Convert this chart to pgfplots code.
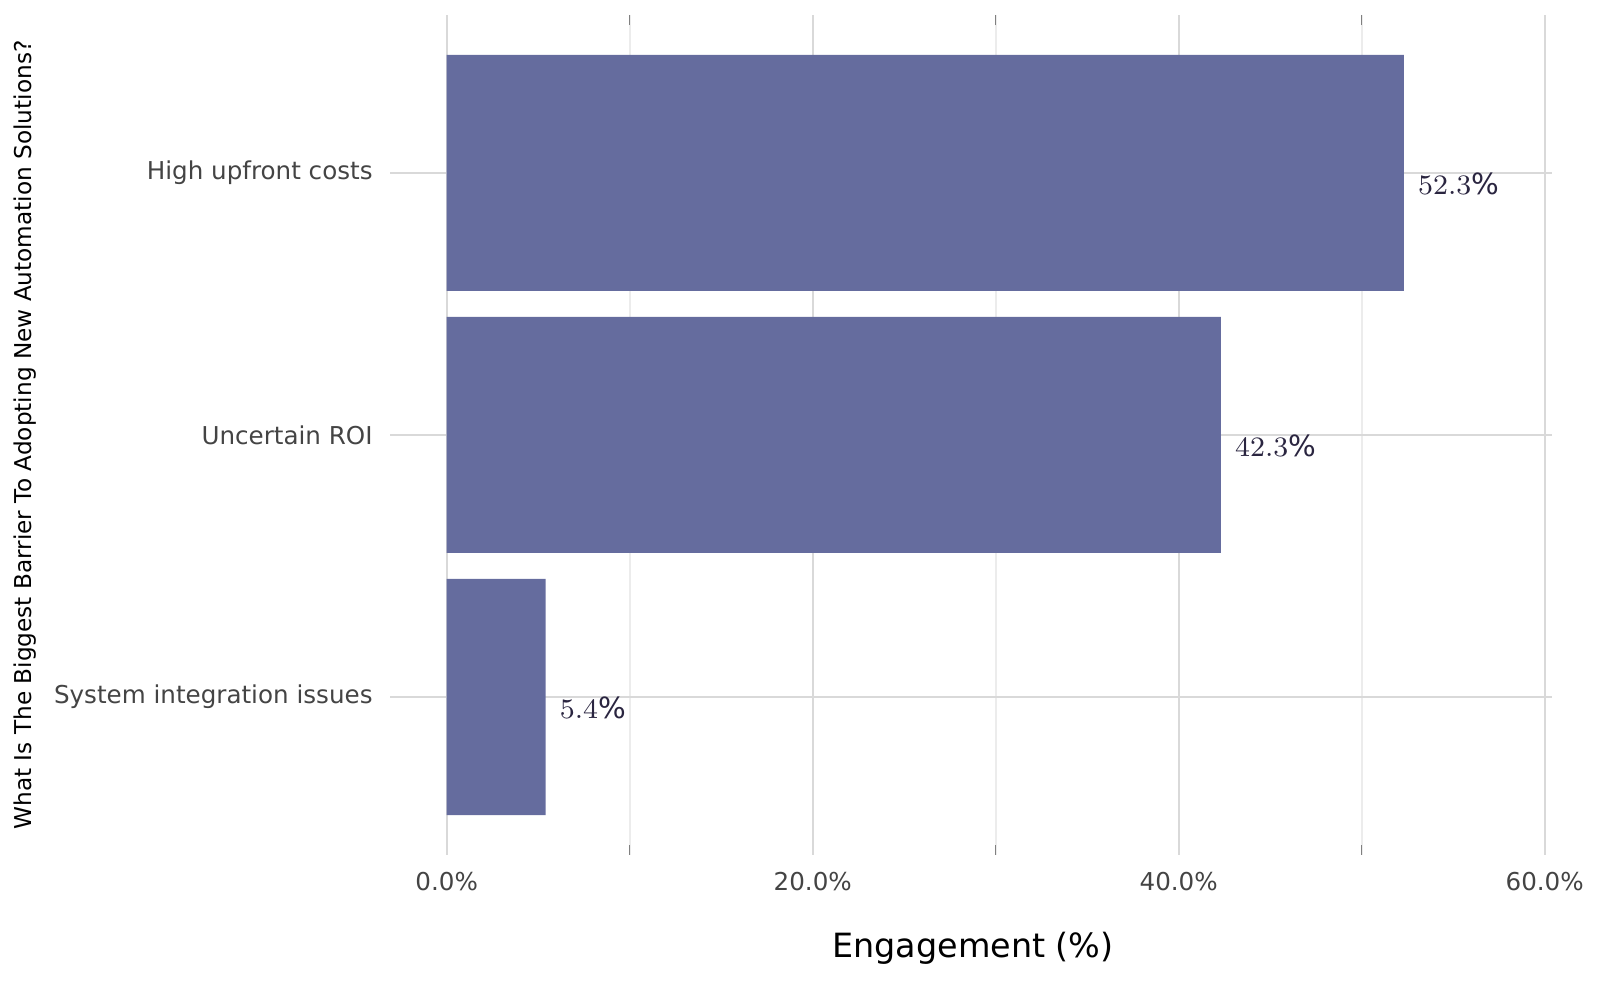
\documentclass[border=0pt]{standalone}
\usepackage{pgfplots}
\pgfplotsset{compat=1.18}
\usepackage{fontspec}
\setmainfont{DejaVu Sans}
\definecolor{barc}{HTML}{656C9E}
\definecolor{tickc}{HTML}{444444}
\definecolor{lblc}{HTML}{2A2540}
\begin{document}
\begin{tikzpicture}
\useasboundingbox (0,0) rectangle (16,10);
\begin{axis}[at={(3.9cm,1.45cm)},anchor=south west,scale only axis,
  width=11.62cm,height=8.4cm,
  xbar,bar width=2.36cm,
  xmin=-3.1,xmax=60.4,ymin=-0.603,ymax=2.603,
  ytick={0,1,2},yticklabels={System integration issues,Uncertain ROI,High upfront costs},
  xtick={0,20,40,60},xticklabels={0.0\%,20.0\%,40.0\%,60.0\%},
  minor xtick={10,30,50},
  axis line style={draw=none},
  major tick length=0pt,
  ymajorgrids,xmajorgrids,xminorgrids,
  major grid style={gray!30,line width=0.6pt},
  minor grid style={gray!15,line width=0.5pt},
  tick label style={font=\fontsize{7}{8}\selectfont,text=tickc},
  xticklabel style={yshift=-0.05cm},
  yticklabel style={xshift=-0.05cm},
  nodes near coords={\pgfmathprintnumber[fixed,precision=1,fixed zerofill]{\pgfplotspointmeta}\%},
  nodes near coords style={font=\fontsize{8.3}{9}\selectfont,text=lblc,anchor=west,yshift=-0.11cm,xshift=0.02cm},
  clip=false,
]
\addplot[fill=barc,draw=none,bar shift=0pt] coordinates {(5.4,0) (42.3,1) (52.3,2)};
\end{axis}
\node[font=\fontsize{9.5}{11}\selectfont] at (9.73,0.52) {Engagement (\%)};
\node[font=\fontsize{6.6}{8}\selectfont,rotate=90] at (0.25,5.65) {What Is The Biggest Barrier To Adopting New Automation Solutions?};
\end{tikzpicture}
\end{document}
